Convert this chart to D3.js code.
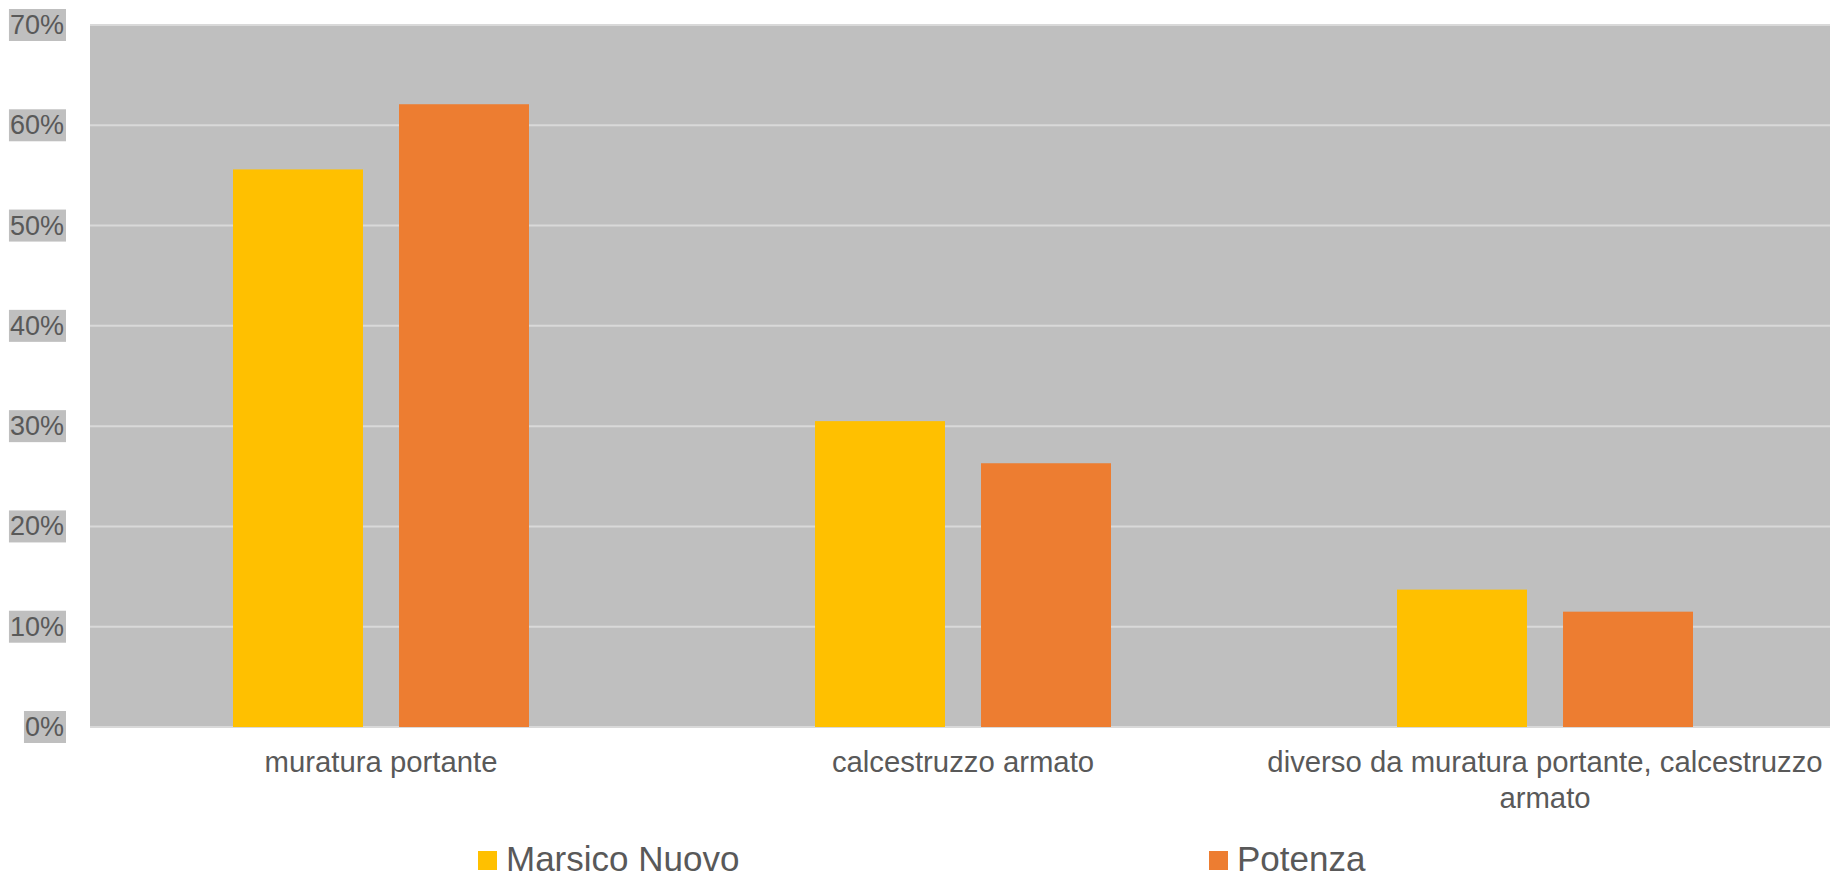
<!DOCTYPE html>
<html>
<head>
<meta charset="utf-8">
<script src="https://cdn.jsdelivr.net/npm/d3@7"></script>
<style>
  html, body { margin: 0; padding: 0; background: #fff; }
  svg { display: block; font-family: "Liberation Sans", Arial, sans-serif; }
</style>
</head>
<body>
<svg id="chart" width="1830" height="877"></svg>
<script>
const categories = ["muratura portante", "calcestruzzo armato", "diverso da muratura portante, calcestruzzo armato"];
const seriesNames = ["Marsico Nuovo", "Potenza"];
const marsicoNuovo = [0.556, 0.305, 0.137];
const potenza = [0.621, 0.263, 0.115];
const yTicks = [0, 0.1, 0.2, 0.3, 0.4, 0.5, 0.6, 0.7];
const colors = ["#FFC000", "#ED7D31"];

const seriesValues = [marsicoNuovo, potenza];
const data = categories.map((c, i) => ({
  category: c,
  values: seriesNames.map((s, j) => ({ series: s, value: seriesValues[j][i], color: colors[j] }))
}));

const svg = d3.select("#chart");
const plot = { left: 90, top: 25, right: 1836, bottom: 727 };

const x0 = d3.scaleBand().domain(categories).range([plot.left, plot.right]).padding(0);
const innerOuter = 143;
const x1 = d3.scaleBand().domain(seriesNames)
  .range([innerOuter, x0.bandwidth() - innerOuter]).paddingInner(0.217).paddingOuter(0);
const y = d3.scaleLinear().domain([0, 0.7]).range([plot.bottom, plot.top]);

// plot background
svg.append("rect")
  .attr("x", plot.left).attr("y", plot.top)
  .attr("width", plot.right - plot.left).attr("height", plot.bottom - plot.top)
  .attr("fill", "#BFBFBF");

// gridlines
svg.append("g").selectAll("line").data(yTicks).join("line")
  .attr("x1", plot.left).attr("x2", plot.right)
  .attr("y1", d => y(d)).attr("y2", d => y(d))
  .attr("stroke", "#D9D9D9").attr("stroke-width", 2);

// bars
const groups = svg.append("g").selectAll("g").data(data).join("g")
  .attr("transform", d => `translate(${x0(d.category)},0)`);
groups.selectAll("rect").data(d => d.values).join("rect")
  .attr("x", d => x1(d.series))
  .attr("width", x1.bandwidth())
  .attr("y", d => y(d.value))
  .attr("height", d => y(0) - y(d.value))
  .attr("fill", d => d.color);

// y-axis labels with grey background
const fmt = d3.format(".0%");
const yAxis = svg.append("g");
yTicks.forEach(t => {
  const g = yAxis.append("g");
  const txt = g.append("text")
    .attr("x", 64).attr("y", y(t))
    .attr("text-anchor", "end").attr("dominant-baseline", "central")
    .attr("font-size", 27).attr("fill", "#595959")
    .text(fmt(t));
  const bb = txt.node().getBBox();
  g.insert("rect", "text")
    .attr("x", bb.x - 1).attr("y", y(t) - 16)
    .attr("width", bb.width + 3).attr("height", 32)
    .attr("fill", "#BFBFBF");
});

// x-axis labels (wrapped)
const xFont = 29.3, lineH = 36, firstBase = 772, rightLimit = 1830;
const xAxis = svg.append("g");
categories.forEach(c => {
  const cx = x0(c) + x0.bandwidth() / 2;
  const maxW = x0.bandwidth() - 10;
  const t = xAxis.append("text").attr("font-size", xFont).attr("fill", "#595959").attr("text-anchor", "middle");
  const words = c.split(" ");
  let lines = [], cur = [];
  const probe = xAxis.append("text").attr("font-size", xFont);
  words.forEach(w => {
    const test = cur.concat([w]).join(" ");
    probe.text(test);
    if (probe.node().getComputedTextLength() > maxW && cur.length) {
      lines.push(cur.join(" ")); cur = [w];
    } else cur.push(w);
  });
  lines.push(cur.join(" "));
  let maxLen = 0;
  lines.forEach(l => { probe.text(l); maxLen = Math.max(maxLen, probe.node().getComputedTextLength()); });
  probe.remove();
  const center = Math.min(cx, rightLimit - maxLen / 2);
  lines.forEach((l, i) => {
    t.append("tspan").attr("x", center).attr("y", firstBase + i * lineH).text(l);
  });
});

// legend
const legendX = [478, 1209];
const legend = svg.append("g");
seriesNames.forEach((s, i) => {
  legend.append("rect").attr("x", legendX[i]).attr("y", 851).attr("width", 19).attr("height", 19).attr("fill", colors[i]);
  legend.append("text").attr("x", legendX[i] + 28).attr("y", 870.5)
    .attr("font-size", 35).attr("fill", "#595959").text(s);
});
</script>
</body>
</html>
